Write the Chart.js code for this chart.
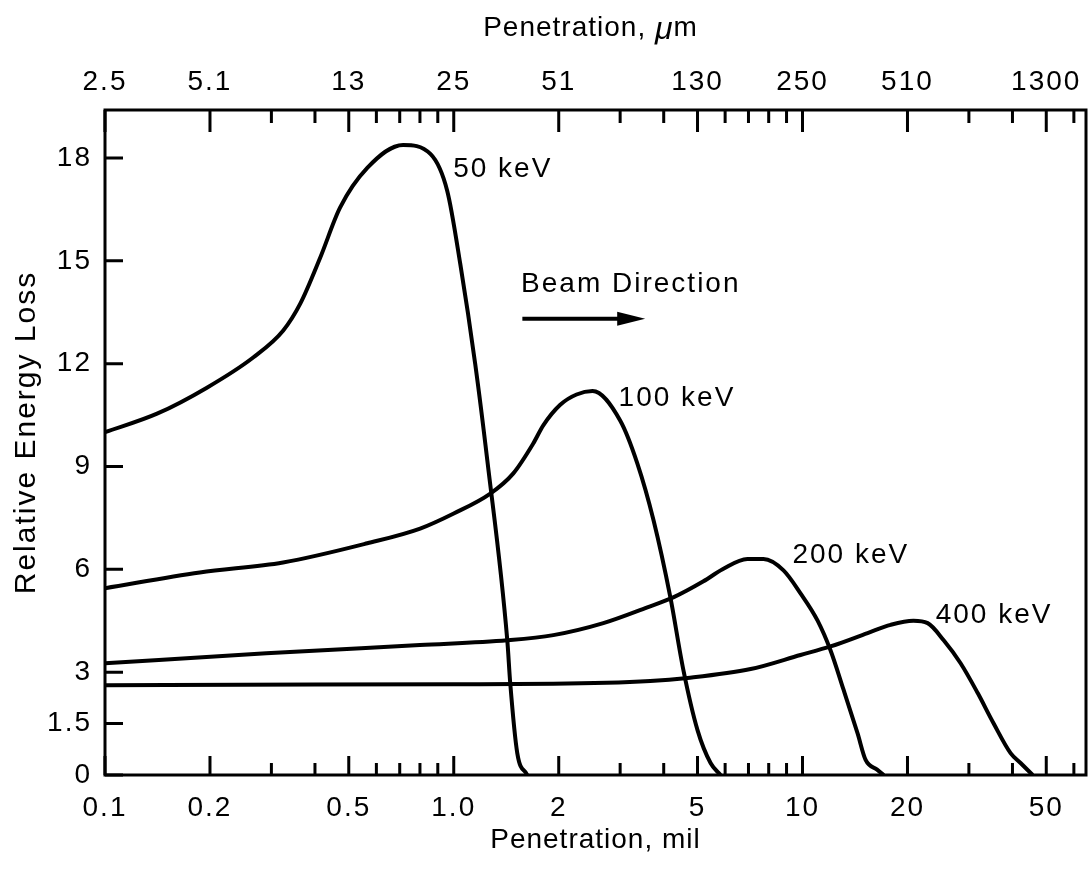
<!DOCTYPE html>
<html>
<head>
<meta charset="utf-8">
<script src="https://cdn.jsdelivr.net/npm/chart.js@4.4.0/dist/chart.umd.min.js"></script>
<style>
  html, body { margin: 0; padding: 0; background: #fff; }
</style>
</head>
<body>
<canvas id="lossChart" width="1091" height="886"></canvas>
<script>
// tick positions (mil) and labels for the two x axes
const majorTicks = [0.1, 0.2, 0.5, 1, 2, 5, 10, 20, 50];
const minorTicks = [0.3, 0.4, 0.6, 0.7, 0.8, 0.9, 3, 4, 6, 7, 8, 9, 30, 40, 60];
const milLabels = ['0.1', '0.2', '0.5', '1.0', '2', '5', '10', '20', '50'];
const umLabels = ['2.5', '5.1', '13', '25', '51', '130', '250', '510', '1300'];
const yTicks = [0, 1.5, 3, 6, 9, 12, 15, 18];
const yLabels = ['0', '1.5', '3', '6', '9', '12', '15', '18'];

// curves: penetration (mil) / relative energy loss
const kev50X = [0.1, 0.141, 0.196, 0.266, 0.324, 0.363, 0.414, 0.472, 0.565, 0.716, 0.857, 0.958, 1.044, 1.152, 1.248, 1.424, 1.452, 1.521, 1.625];
const kev50Y = [10.0, 10.54, 11.3, 12.18, 12.96, 13.75, 15.09, 16.55, 17.71, 18.38, 18.12, 17.04, 14.91, 12.0, 9.18, 3.93, 2.68, 0.64, 0];

const kev100X = [0.1, 0.187, 0.324, 0.565, 0.801, 1.0, 1.273, 1.482, 1.69, 1.806, 2.02, 2.25, 2.5, 3.0, 3.36, 3.74, 4.18, 4.555, 5.0, 5.45, 5.82];
const kev100Y = [5.45, 5.91, 6.2, 6.76, 7.19, 7.63, 8.21, 8.8, 9.67, 10.2, 10.8, 11.1, 11.2, 10.34, 9.09, 7.43, 5.18, 3.06, 1.31, 0.35, 0];

const kev200X = [0.1, 0.29, 0.8, 1.424, 1.93, 2.685, 3.59, 4.26, 5.2, 5.9, 6.95, 7.73, 8.82, 9.87, 11.04, 12.03, 13.12, 14.38, 15.17, 16.4, 17.1];
const kev200Y = [3.26, 3.55, 3.79, 3.93, 4.08, 4.43, 4.89, 5.18, 5.65, 6.0, 6.3, 6.3, 5.97, 5.3, 4.51, 3.64, 2.48, 1.22, 0.44, 0.15, 0];

const kev400X = [0.1, 0.4, 1.0, 1.93, 3.66, 4.68, 7.1, 9.87, 12.03, 15.37, 17.89, 20.8, 22.85, 25.4, 28.4, 31.8, 35.3, 39.5, 42.2, 45.7];
const kev400Y = [2.62, 2.64, 2.65, 2.66, 2.74, 2.83, 3.09, 3.5, 3.75, 4.14, 4.38, 4.5, 4.43, 3.93, 3.26, 2.39, 1.51, 0.64, 0.35, 0];

const FONT = '"Liberation Sans", Arial, sans-serif';

function points(xs, ys) {
    return xs.map((x, i) => ({ x: x, y: ys[i] }));
}

function curve(label, xs, ys) {
    return {
        label: label,
        data: points(xs, ys),
        borderColor: '#000',
        borderWidth: 4,
        pointRadius: 0,
        fill: false,
        cubicInterpolationMode: 'monotone'
    };
}

// frame, inward ticks, axis titles and the notes inside the plot
const decorations = {
    id: 'decorations',
    beforeDraw(chart) {
        // the printed tick numbers are a little spaced out
        chart.ctx.letterSpacing = '2px';
    },
    afterDraw(chart) {
        const ctx = chart.ctx;
        const a = chart.chartArea;
        const x = chart.scales.x;
        const y = chart.scales.y;

        ctx.save();
        ctx.strokeStyle = '#000';
        ctx.lineWidth = 3;
        ctx.strokeRect(a.left, a.top, a.right - a.left, a.bottom - a.top);

        ctx.beginPath();
        majorTicks.forEach(v => {
            const px = x.getPixelForValue(v);
            ctx.moveTo(px, a.bottom); ctx.lineTo(px, a.bottom - 19);
            ctx.moveTo(px, a.top); ctx.lineTo(px, a.top + 22);
        });
        minorTicks.forEach(v => {
            const px = x.getPixelForValue(v);
            ctx.moveTo(px, a.bottom); ctx.lineTo(px, a.bottom - 12);
            ctx.moveTo(px, a.top); ctx.lineTo(px, a.top + 13);
        });
        yTicks.forEach(v => {
            const py = y.getPixelForValue(v);
            ctx.moveTo(a.left, py); ctx.lineTo(a.left + 18, py);
        });
        ctx.stroke();

        ctx.fillStyle = '#000';
        ctx.textBaseline = 'middle';
        ctx.letterSpacing = '2px';

        // curve labels and beam direction
        ctx.font = '28px ' + FONT;
        ctx.textAlign = 'left';
        const notes = [
            ['50 keV', 0.996, 17.68],
            ['100 keV', 2.97, 10.98],
            ['200 keV', 9.36, 6.41],
            ['400 keV', 24.1, 4.66],
            ['Beam Direction', 1.56, 14.33]
        ];
        notes.forEach(n => ctx.fillText(n[0], x.getPixelForValue(n[1]), y.getPixelForValue(n[2])));

        const ax0 = x.getPixelForValue(1.573);
        const ax1 = x.getPixelForValue(3.54);
        const ay = y.getPixelForValue(13.31);
        ctx.lineWidth = 4;
        ctx.beginPath();
        ctx.moveTo(ax0, ay); ctx.lineTo(ax1 - 20, ay);
        ctx.stroke();
        ctx.beginPath();
        ctx.moveTo(ax1, ay);
        ctx.lineTo(ax1 - 28, ay - 7);
        ctx.lineTo(ax1 - 28, ay + 7);
        ctx.closePath();
        ctx.fill();

        // axis titles
        const cx = (a.left + a.right) / 2;
        ctx.letterSpacing = '1px';
        ctx.textAlign = 'center';
        ctx.font = '28px ' + FONT;
        ctx.fillText('Penetration, mil', cx, chart.height - 46);

        const part1 = 'Penetration, ';
        ctx.font = '28px ' + FONT;
        const w1 = ctx.measureText(part1).width;
        ctx.font = 'italic 32px ' + FONT;
        const w2 = ctx.measureText('μ').width;
        ctx.font = '28px ' + FONT;
        const w3 = ctx.measureText('m').width;
        const tx = cx - 5 - (w1 + w2 + w3) / 2;
        ctx.textAlign = 'left';
        ctx.fillText(part1, tx, 28);
        ctx.font = 'italic 32px ' + FONT;
        ctx.fillText('μ', tx + w1, 30);
        ctx.font = '28px ' + FONT;
        ctx.fillText('m', tx + w1 + w2, 28);

        ctx.letterSpacing = '2px';
        ctx.font = '30px ' + FONT;
        ctx.translate(27, (a.top + a.bottom) / 2 - 10);
        ctx.rotate(-Math.PI / 2);
        ctx.textAlign = 'center';
        ctx.fillText('Relative Energy Loss', 0, 0);
        ctx.restore();
    }
};

const tickFont = { family: FONT, size: 28 };

const ctx = document.getElementById('lossChart').getContext('2d');
window.myChart = new Chart(ctx, {
    type: 'line',
    data: {
        datasets: [
            curve('50 keV', kev50X, kev50Y),
            curve('100 keV', kev100X, kev100Y),
            curve('200 keV', kev200X, kev200Y),
            curve('400 keV', kev400X, kev400Y)
        ]
    },
    options: {
        responsive: false,
        animation: false,
        layout: { padding: { right: 5 } },
        plugins: {
            legend: { display: false },
            tooltip: { enabled: false }
        },
        scales: {
            x: {
                type: 'logarithmic',
                position: 'bottom',
                min: 0.1,
                max: 65,
                grid: { display: false, drawTicks: false },
                border: { display: false },
                afterBuildTicks: s => { s.ticks = majorTicks.map(v => ({ value: v })); },
                afterFit: s => { s.height = 111; s.paddingLeft = 0; s.paddingRight = 0; },
                ticks: {
                    autoSkip: false,
                    maxRotation: 0,
                    padding: 16,
                    color: '#000',
                    font: tickFont,
                    callback: (v, i) => milLabels[i]
                }
            },
            x2: {
                type: 'logarithmic',
                position: 'top',
                min: 0.1,
                max: 65,
                grid: { display: false, drawTicks: false },
                border: { display: false },
                afterBuildTicks: s => { s.ticks = majorTicks.map(v => ({ value: v })); },
                afterFit: s => { s.height = 110; s.paddingLeft = 0; s.paddingRight = 0; },
                ticks: {
                    autoSkip: false,
                    maxRotation: 0,
                    padding: 11,
                    color: '#000',
                    font: tickFont,
                    callback: (v, i) => umLabels[i]
                }
            },
            y: {
                type: 'linear',
                min: 0,
                max: 19.4,
                grid: { display: false, drawTicks: false },
                border: { display: false },
                afterBuildTicks: s => { s.ticks = yTicks.map(v => ({ value: v })); },
                afterFit: s => { s.width = 105; s.paddingTop = 0; s.paddingBottom = 0; },
                ticks: {
                    autoSkip: false,
                    padding: 13,
                    color: '#000',
                    font: tickFont,
                    callback: (v, i) => yLabels[i]
                }
            }
        }
    },
    plugins: [decorations]
});
</script>
</body>
</html>
